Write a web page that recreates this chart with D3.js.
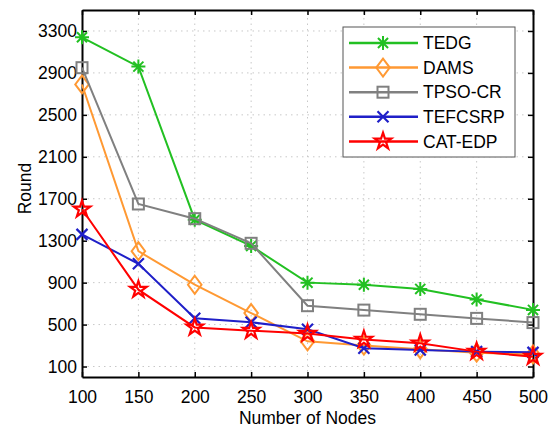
<!DOCTYPE html>
<html>
<head>
<meta charset="utf-8">
<script src="https://cdn.jsdelivr.net/npm/d3@7"></script>
<style>
  body { margin: 0; background: #fff; }
  svg text { font-family: "Liberation Sans", Arial, sans-serif; fill: #000; }
  .grid line { stroke: #c8c8c8; stroke-dasharray: 1.5 4; }
</style>
</head>
<body>
<div id="chart"></div>
<script>
// data
const nodes = [100, 150, 200, 250, 300, 350, 400, 450, 500];
const yTicks = [100, 500, 900, 1300, 1700, 2100, 2500, 2900, 3300];
const seriesNames = ["TEDG", "DAMS", "TPSO-CR", "TEFCSRP", "CAT-EDP"];
const tedg = [3240, 2960, 1500, 1250, 900, 880, 840, 740, 640];
const dams = [2790, 1200, 880, 610, 340, 300, 265, 232, 215];
const tpso = [2950, 1650, 1510, 1275, 680, 638, 598, 559, 519];
const tefcsrp = [1360, 1080, 560, 522, 456, 275, 258, 242, 235];
const catedp = [1600, 833, 473, 442, 414, 358, 321, 242, 194];

const width = 555, height = 428;
const margin = { top: 10, right: 22, bottom: 51, left: 82 };
const fontSize = "17.5px";

const svg = d3.select("#chart").append("svg")
  .attr("width", width).attr("height", height);

const x = d3.scaleLinear().domain([100, 500]).range([margin.left, width - margin.right]);
const y = d3.scaleLinear().domain([0, 3500]).range([height - margin.bottom, margin.top]);

// grid
svg.append("g").attr("class", "grid")
  .selectAll("line").data(nodes.slice(1, -1)).join("line")
  .attr("x1", d => x(d)).attr("x2", d => x(d))
  .attr("y1", y(0)).attr("y2", y(3500));
svg.append("g").attr("class", "grid")
  .selectAll("line").data(yTicks).join("line")
  .attr("x1", x(100)).attr("x2", x(500))
  .attr("y1", d => y(d)).attr("y2", d => y(d));

// axes
const tickLen = 5;
const fmt = d3.format("d");
const axisBottom = svg.append("g").attr("transform", `translate(0,${y(0)})`)
  .call(d3.axisBottom(x).tickValues(nodes).tickFormat(fmt).tickSizeInner(-tickLen).tickSizeOuter(0).tickPadding(13));
const axisTop = svg.append("g").attr("transform", `translate(0,${y(3500)})`)
  .call(d3.axisTop(x).tickValues(nodes).tickSizeInner(-tickLen).tickSizeOuter(0).tickFormat(""));
const axisLeft = svg.append("g").attr("transform", `translate(${x(100)},0)`)
  .call(d3.axisLeft(y).tickValues(yTicks).tickFormat(fmt).tickSizeInner(-tickLen).tickSizeOuter(0).tickPadding(5));
const axisRight = svg.append("g").attr("transform", `translate(${x(500)},0)`)
  .call(d3.axisRight(y).tickValues(yTicks).tickSizeInner(-tickLen).tickSizeOuter(0).tickFormat(""));

[axisBottom, axisTop, axisLeft, axisRight].forEach(g => {
  g.select(".domain").attr("stroke", "#000").attr("stroke-width", 2);
  g.selectAll(".tick line").attr("stroke", "#000").attr("stroke-width", 1.5);
  g.selectAll(".tick text").style("font-size", fontSize).attr("fill", "#000");
});
axisBottom.selectAll(".tick text").attr("dy", "0.72em");

// axis titles
svg.append("text")
  .attr("x", (x(100) + x(500)) / 2).attr("y", 424)
  .attr("text-anchor", "middle").style("font-size", fontSize)
  .text("Number of Nodes");
svg.append("text")
  .attr("transform", `translate(31,${(y(0) + y(3500)) / 2 - 5}) rotate(-90)`)
  .attr("text-anchor", "middle").style("font-size", fontSize)
  .text("Round");

// markers
const star5 = d3.symbol().type(d3.symbolStar).size(85);
function drawMarker(g, type, color) {
  if (type === "asterisk") {
    const r = 7;
    const p = `M${-r},0L${r},0M0,${-r}L0,${r}M${-r * 0.72},${-r * 0.72}L${r * 0.72},${r * 0.72}M${-r * 0.72},${r * 0.72}L${r * 0.72},${-r * 0.72}`;
    g.append("path").attr("d", p).attr("stroke", color).attr("stroke-width", 2).attr("fill", "none");
  } else if (type === "diamond") {
    const r = 9;
    g.append("path").attr("d", `M0,${-r}L${r * 0.75},0L0,${r}L${-r * 0.75},0Z`)
      .attr("stroke", color).attr("stroke-width", 2).attr("fill", "none");
  } else if (type === "square") {
    const r = 5.5;
    g.append("rect").attr("x", -r).attr("y", -r).attr("width", 2 * r).attr("height", 2 * r)
      .attr("stroke", color).attr("stroke-width", 2).attr("fill", "none");
  } else if (type === "x") {
    const r = 5.5;
    g.append("path").attr("d", `M${-r},${-r}L${r},${r}M${-r},${r}L${r},${-r}`)
      .attr("stroke", color).attr("stroke-width", 2.2).attr("fill", "none");
  } else if (type === "star") {
    g.append("path").attr("d", star5())
      .attr("stroke", color).attr("stroke-width", 2.2).attr("fill", "none");
  }
}

const series = [
  { name: seriesNames[0], values: tedg, color: "#22c022", marker: "asterisk" },
  { name: seriesNames[1], values: dams, color: "#ff9933", marker: "diamond" },
  { name: seriesNames[2], values: tpso, color: "#808080", marker: "square" },
  { name: seriesNames[3], values: tefcsrp, color: "#1f1fc8", marker: "x" },
  { name: seriesNames[4], values: catedp, color: "#ff0000", marker: "star" }
];

const line = d3.line().x((d, i) => x(nodes[i])).y(d => y(d));

series.forEach(s => {
  const g = svg.append("g");
  g.append("path").datum(s.values)
    .attr("d", line).attr("fill", "none")
    .attr("stroke", s.color).attr("stroke-width", 2);
  s.values.forEach((v, i) => {
    const m = g.append("g").attr("transform", `translate(${x(nodes[i])},${y(v)})`);
    drawMarker(m, s.marker, s.color);
  });
});

// legend
const legend = svg.append("g").attr("transform", "translate(343,27)");
legend.append("rect")
  .attr("width", 172).attr("height", 130)
  .attr("fill", "#fff").attr("stroke", "#555").attr("stroke-width", 1);
series.forEach((s, i) => {
  const ly = 16 + i * 24.6;
  legend.append("line")
    .attr("x1", 6).attr("x2", 75).attr("y1", ly).attr("y2", ly)
    .attr("stroke", s.color).attr("stroke-width", 2.5);
  drawMarker(legend.append("g").attr("transform", `translate(40,${ly})`), s.marker, s.color);
  legend.append("text")
    .attr("x", 80).attr("y", ly).attr("dy", "0.35em")
    .style("font-size", fontSize)
    .text(s.name);
});
</script>
</body>
</html>
